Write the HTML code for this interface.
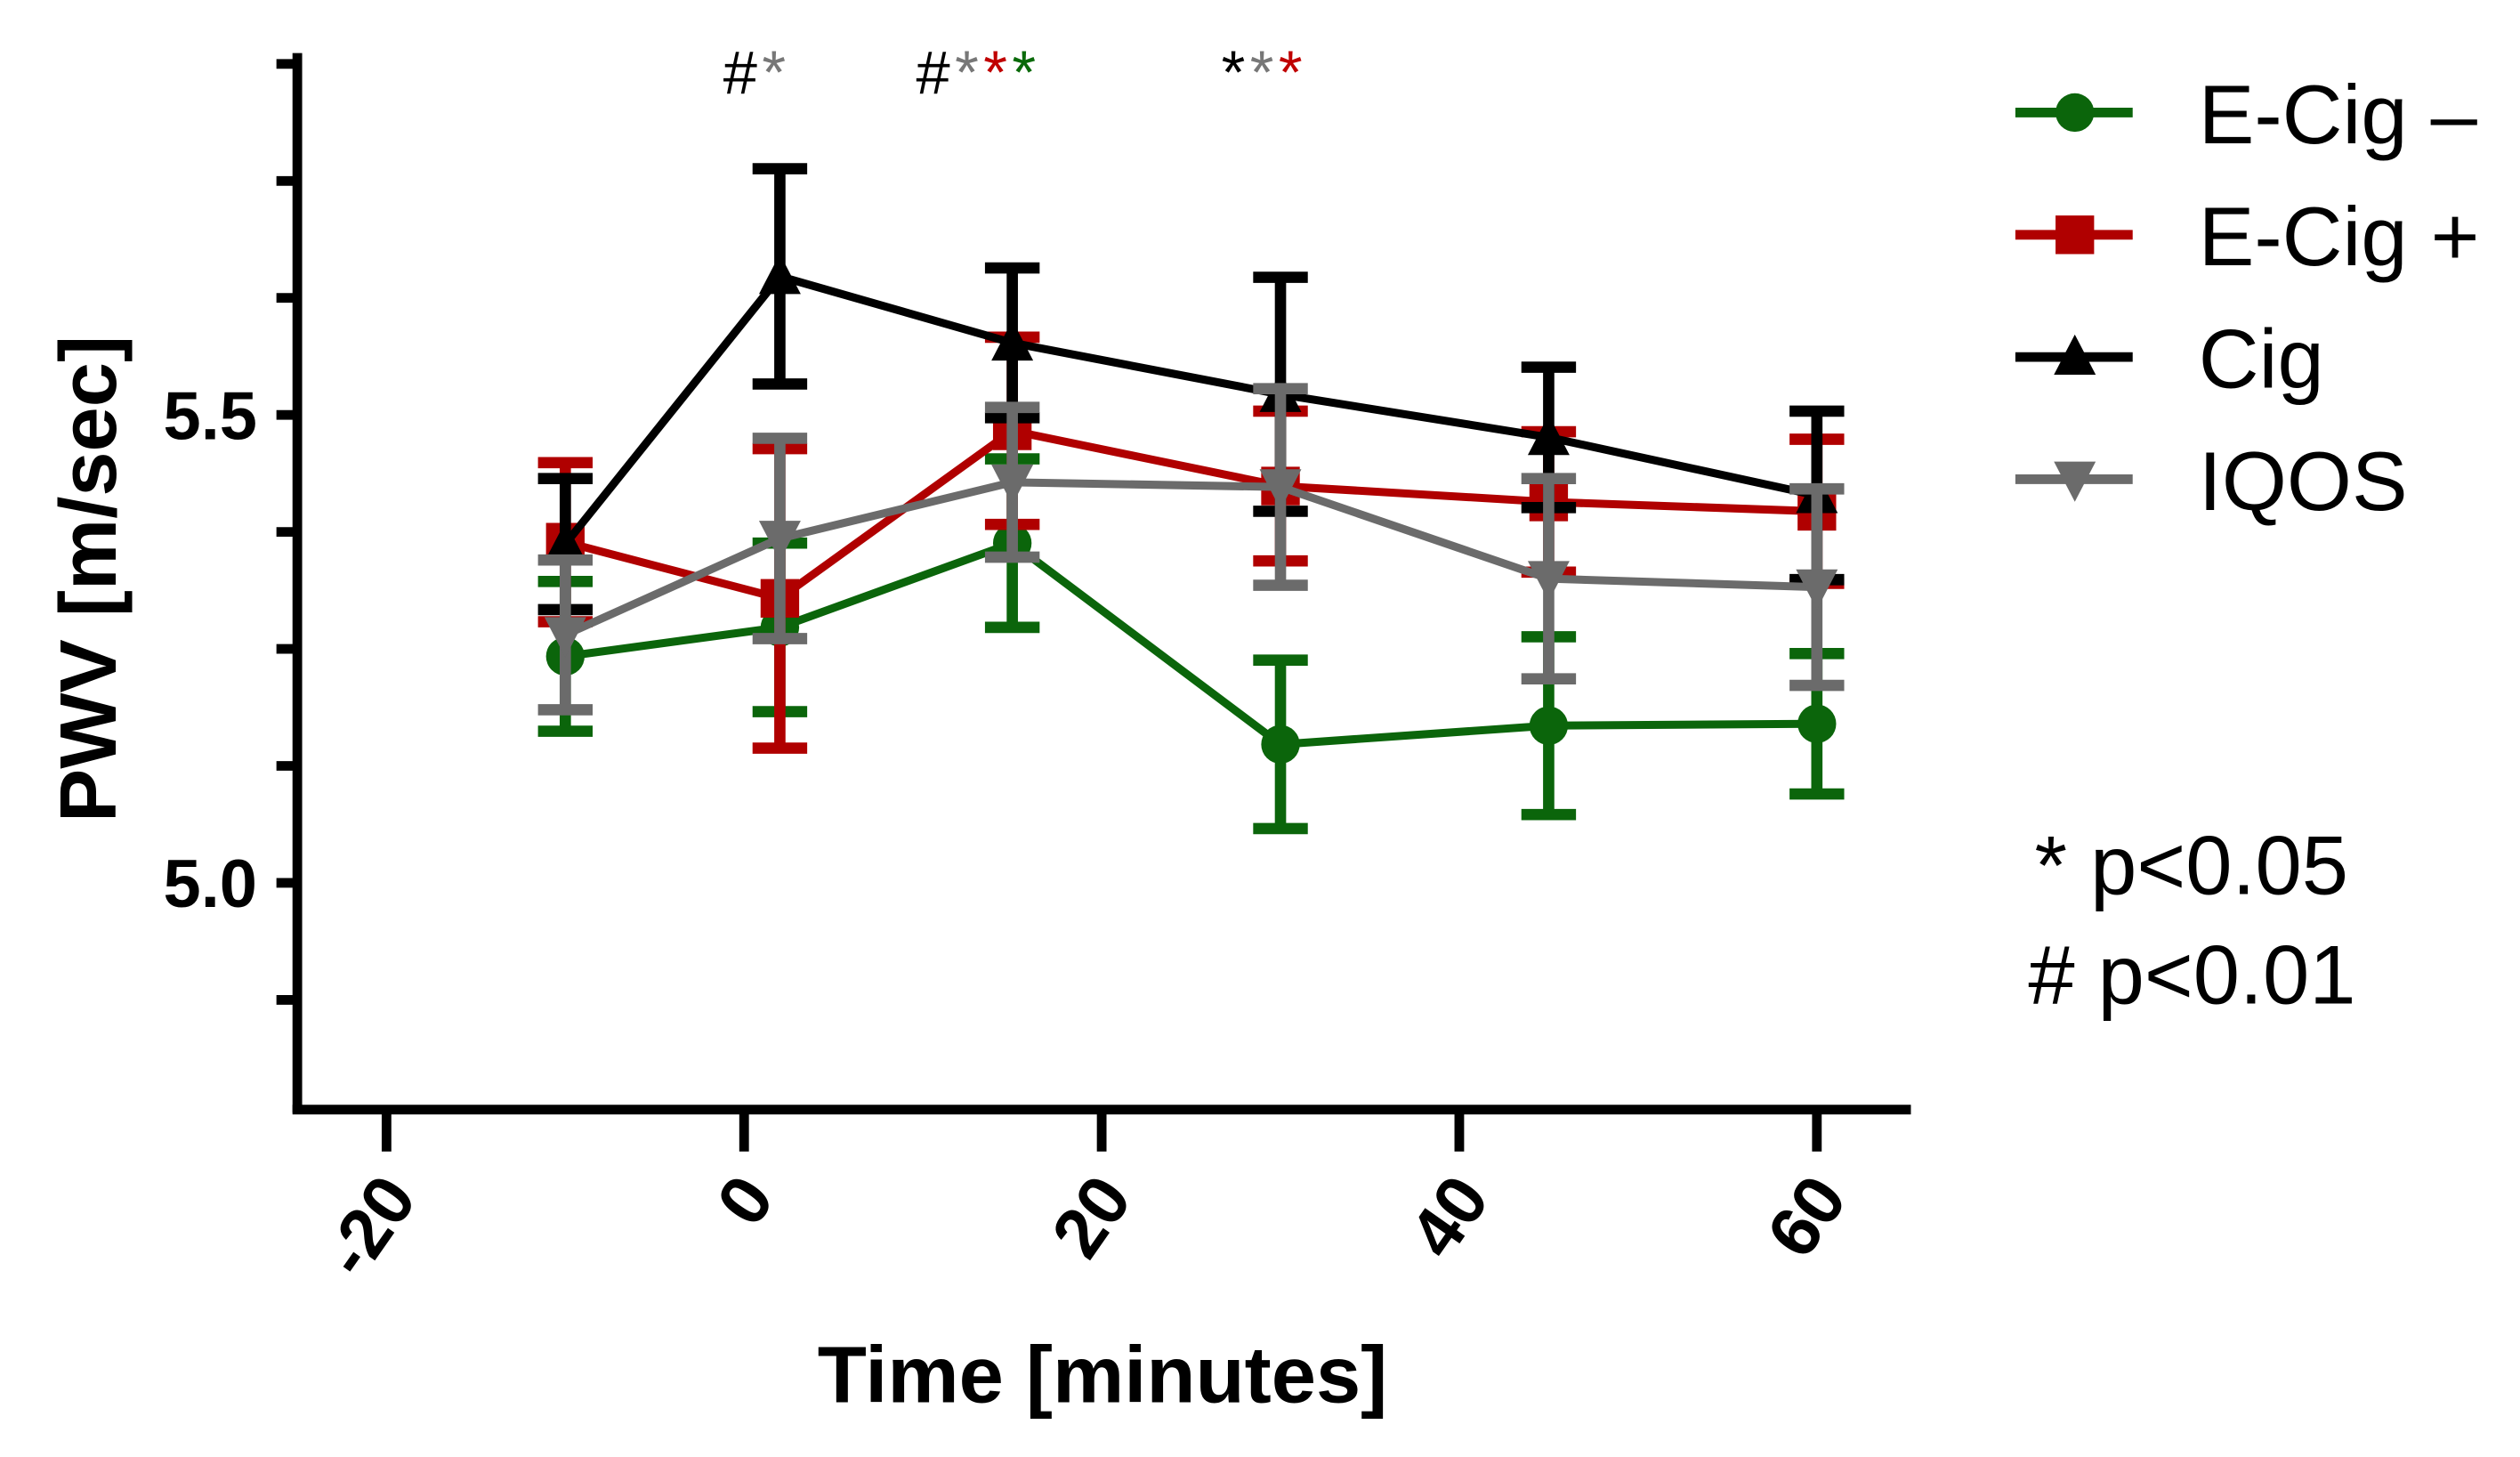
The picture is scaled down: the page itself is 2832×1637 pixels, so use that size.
<!DOCTYPE html>
<html><head><meta charset="utf-8"><style>
html,body{margin:0;padding:0;background:#fff;}
svg{display:block;font-family:"Liberation Sans",Arial,sans-serif;}
</style></head><body>
<svg id="chart" width="2832" height="1637" viewBox="0 0 1568 906" preserveAspectRatio="none" xmlns="http://www.w3.org/2000/svg">
<g id="axes"></g>
<g id="series"></g>
<g><text x="0" y="0" transform="translate(72,360) rotate(-90)" text-anchor="middle" font-size="50" font-weight="bold">PWV [m/sec]</text></g>
<text x="686" y="872" text-anchor="middle" font-size="50" font-weight="bold">Time [minutes]</text>
<g font-size="38" letter-spacing="3">
<text x="450" y="58">#<tspan fill="#777">*</tspan></text>
<text x="570" y="58">#<tspan fill="#777">*</tspan><tspan fill="#c00000">*</tspan><tspan fill="#0a6a0a">*</tspan></text>
<text x="760" y="58">*<tspan fill="#777">*</tspan><tspan fill="#c00000">*</tspan></text>
</g>
<g id="legend"></g>
<text x="1266" y="556" font-size="52">* p&lt;0.05</text>
<text x="1262" y="624" font-size="52"># p&lt;0.01</text>
</svg>
<script>
const times = [-10, 2, 15, 30, 45, 60];
const seriesNames = ["E-Cig \u2013", "E-Cig +", "Cig", "IQOS"];
const ecigMinus = [5.242, 5.273, 5.363, 5.148, 5.168, 5.170];
const ecigMinusErr = [0.08, 0.09, 0.09, 0.09, 0.095, 0.075];
const ecigPlus = [5.364, 5.304, 5.483, 5.424, 5.407, 5.397];
const ecigPlusErr = [0.085, 0.16, 0.1, 0.08, 0.075, 0.077];
const cig = [5.362, 5.648, 5.577, 5.522, 5.476, 5.414];
const cigErr = [0.07, 0.115, 0.08, 0.125, 0.075, 0.09];
const iqos = [5.265, 5.368, 5.428, 5.423, 5.325, 5.316];
const iqosErr = [0.08, 0.107, 0.08, 0.105, 0.107, 0.105];
const xTicks = [-20, 0, 20, 40, 60];
const yTickLabels = [5.0, 5.5];
const yMinor = [4.875, 5.0, 5.125, 5.25, 5.375, 5.5, 5.625, 5.75, 5.875];

const NS = "http://www.w3.org/2000/svg";
const X = t => 463 + (t * 222.5 / 20);
const Y = v => 549 - (v - 5.0) * 582;
function mk(tag, attrs, parent){const e=document.createElementNS(NS,tag);for(const k in attrs)e.setAttribute(k,attrs[k]);parent.appendChild(e);return e;}

const axes = document.getElementById('axes');
let yl = mk('line',{x1:185,y1:33,x2:185,y2:692,stroke:'#000','stroke-width':6},axes);


let xl = mk('line',{x1:182,y1:690,x2:1189,y2:690,stroke:'#000','stroke-width':6},axes);


yMinor.forEach(v=>{
  const t = mk('line',{x1:172,y1:Y(v),x2:185,y2:Y(v),stroke:'#000','stroke-width':6},axes);
  
  
});
yTickLabels.forEach(v=>{
  const t = mk('text',{x:160,y:Y(v)+15,'text-anchor':'end','font-size':42,'font-weight':'bold'},axes);
  t.textContent = v.toFixed(1);
  
  
});
xTicks.forEach(v=>{
  const t = mk('line',{x1:X(v),y1:690,x2:X(v),y2:716,stroke:'#000','stroke-width':6},axes);
  
  
  const l = mk('text',{x:0,y:0,'text-anchor':'end','font-size':44,'font-weight':'bold',transform:`translate(${X(v)+20},${745}) rotate(-55)`},axes);
  l.textContent = String(v);
  
  
});

const colors = ["#0b650b","#b00000","#000000","#6b6b6b"];
const vals = [ecigMinus, ecigPlus, cig, iqos];
const errs = [ecigMinusErr, ecigPlusErr, cigErr, iqosErr];
const shapes = ["circle","square","up","down"];
function marker(g,shape,x,y,c){
  if(shape==="circle") return mk('circle',{cx:x,cy:y,r:12,fill:c},g);
  if(shape==="square") return mk('rect',{x:x-12,y:y-12,width:24,height:24,fill:c},g);
  if(shape==="up") return mk('polygon',{points:`${x},${y-14} ${x+13},${y+11} ${x-13},${y+11}`,fill:c},g);
  return mk('polygon',{points:`${x},${y+14} ${x+13},${y-11} ${x-13},${y-11}`,fill:c},g);
}
const sg = document.getElementById('series');
vals.forEach((arr,si)=>{
  const g = mk('g',{},sg);
  
  
  const c = colors[si];
  arr.forEach((v,i)=>{
    const x=X(times[i]), e=errs[si][i];
    const eb = mk('path',{d:`M${x},${Y(v+e)}V${Y(v-e)}M${x-17},${Y(v+e)}H${x+17}M${x-17},${Y(v-e)}H${x+17}`,stroke:c,'stroke-width':7,fill:'none'},g);
    
    
  });
  const pl = mk('polyline',{points:arr.map((v,i)=>X(times[i])+','+Y(v)).join(' '),stroke:c,'stroke-width':5,fill:'none'},g);
  
  
  arr.forEach((v,i)=>{
    const m = marker(g,shapes[si],X(times[i]),Y(v),c);
    
    
  });
});

const lg = document.getElementById('legend');
seriesNames.forEach((n,i)=>{
  const y = 70 + i*76;
  const g = mk('g',{},lg);
  
  
  mk('line',{x1:1254,y1:y,x2:1327,y2:y,stroke:colors[i],'stroke-width':6},g);
  marker(g,shapes[i],1291,y,colors[i]);
  const t = mk('text',{x:1368,y:y+19,'font-size':52},g);
  t.textContent = n;
});
</script>
</body></html>
